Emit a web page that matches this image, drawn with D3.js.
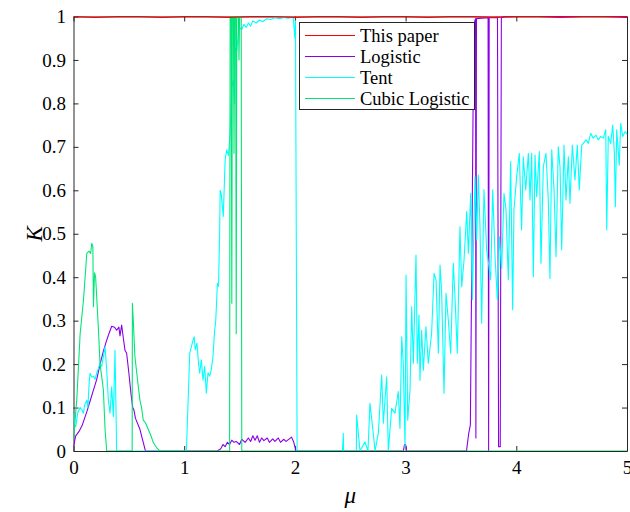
<!DOCTYPE html>
<html><head><meta charset="utf-8">
<script src="https://cdn.jsdelivr.net/npm/d3@7/dist/d3.min.js"></script>
<style>body{margin:0;background:#fff}svg{display:block}
svg text{font-family:"Liberation Serif","Tinos","Times New Roman","DejaVu Serif",serif !important;}
</style>
</head><body>
<svg id="chart" width="630" height="512"></svg>
<script>
const seriesNames = ["This paper", "Logistic", "Tent", "Cubic Logistic"];
const seriesColors = ["#ff0000", "#8b00e6", "#00ffff", "#00e676"];
const xTicks = [0, 1, 2, 3, 4, 5];
const yTicks = [0, 0.1, 0.2, 0.3, 0.4, 0.5, 0.6, 0.7, 0.8, 0.9, 1];

const paperPts = [[0,1],[0.2,0.998],[0.4,1],[0.6,1],[0.8,0.998],[1.0,1],[1.2,1],[1.4,0.998],[1.6,1],[1.8,1],[2.0,0.998],[2.2,1],[2.4,1],[2.6,0.998],[2.8,1],[3.0,1],[3.2,0.998],[3.4,1],[3.6,1],[3.8,0.998],[4.0,1],[4.2,1],[4.4,0.998],[4.6,1],[4.8,1],[5.0,0.998]];

const logisticPts = [[0,0.01],[0.02,0.035],[0.05,0.045],[0.08,0.06],[0.1,0.075],[0.12,0.09],[0.15,0.115],[0.18,0.14],[0.21,0.165],[0.24,0.2],[0.27,0.23],[0.3,0.255],[0.32,0.27],[0.345,0.287],[0.37,0.285],[0.39,0.278],[0.41,0.285],[0.42,0.265],[0.435,0.29],[0.45,0.26],[0.465,0.232],[0.48,0.225],[0.5,0.18],[0.52,0.13],[0.535,0.1],[0.545,0.095],[0.56,0.075],[0.6,0.05],[0.63,0.02],[0.65,0],[1.3,0],[1.33,0.005],[1.35,0.015],[1.37,0.01],[1.39,0.02],[1.41,0.015],[1.43,0.025],[1.45,0.02],[1.47,0.022],[1.5,0.015],[1.52,0.027],[1.55,0.02],[1.58,0.03],[1.6,0.022],[1.62,0.035],[1.64,0.025],[1.66,0.035],[1.68,0.02],[1.7,0.03],[1.72,0.024],[1.75,0.03],[1.77,0.02],[1.8,0.028],[1.82,0.022],[1.85,0.03],[1.87,0.02],[1.9,0.027],[1.92,0.022],[1.95,0.028],[1.97,0.032],[1.99,0.02],[2.01,0],[2.98,0],[2.99,0.015],[3.0,0.015],[3.01,0],[3.55,0],[3.57,0.04],[3.585,0.06],[3.6,0.5],[3.615,0.95],[3.625,0.99],[3.632,0.995],[3.635,0.03],[3.64,0.995],[3.745,0.997],[3.75,0],[3.755,0.997],[3.83,0.998],[3.84,0.01],[3.855,0.01],[3.865,0.998],[3.9,1],[5,1]];

const tentPts = [[0,0.087],[0.01,0.06],[0.02,0.056],[0.04,0.09],[0.06,0.1],[0.075,0.095],[0.09,0.087],[0.1,0.105],[0.12,0.117],[0.13,0.1],[0.14,0.15],[0.149,0.179],[0.165,0.17],[0.18,0.172],[0.195,0.165],[0.21,0.18],[0.225,0.19],[0.24,0.202],[0.255,0.195],[0.27,0.217],[0.285,0.24],[0.3,0.186],[0.315,0.117],[0.33,0.087],[0.345,0.148],[0.36,0.079],[0.375,0.232],[0.39,0],[1.02,0],[1.05,0.225],[1.08,0.255],[1.09,0.263],[1.1,0.233],[1.115,0.248],[1.13,0.2],[1.14,0.179],[1.155,0.21],[1.17,0.163],[1.185,0.195],[1.2,0.133],[1.215,0.18],[1.23,0.172],[1.245,0.188],[1.26,0.217],[1.275,0.277],[1.285,0.3],[1.3,0.386],[1.31,0.379],[1.32,0.5],[1.325,0.6],[1.335,0.59],[1.353,0.54],[1.37,0.67],[1.384,0.693],[1.4,0.68],[1.414,0.73],[1.43,0.838],[1.444,0.854],[1.455,0.8],[1.46,0.927],[1.475,0.92],[1.49,0.965],[1.5,0.975],[1.52,0.97],[1.54,0.982],[1.56,0.975],[1.58,0.985],[1.6,0.978],[1.62,0.99],[1.65,0.985],[1.68,0.992],[1.71,0.988],[1.745,0.995],[1.78,0.993],[1.82,0.997],[1.86,0.995],[1.9,0.998],[1.94,0.996],[1.97,0.998],[1.985,0.997],[2.0,0.95],[2.005,0.99],[2.02,0],[2.43,0],[2.437,0.041],[2.44,0],[2.555,0],[2.558,0.083],[2.588,0],[2.633,0.021],[2.66,0],[2.678,0.11],[2.708,0.041],[2.724,0],[2.754,0.041],[2.784,0.175],[2.799,0.064],[2.829,0.171],[2.844,0],[2.874,0.098],[2.904,0.087],[2.934,0.137],[2.949,0.052],[2.965,0.263],[2.979,0.202],[2.995,0.01],[3.004,0.405],[3.019,0.071],[3.04,0.14],[3.055,0.332],[3.07,0.202],[3.094,0.451],[3.106,0.202],[3.121,0.313],[3.13,0.163],[3.145,0.278],[3.16,0.186],[3.184,0.286],[3.205,0.202],[3.235,0.271],[3.257,0.409],[3.275,0.394],[3.296,0.225],[3.311,0.428],[3.326,0.363],[3.347,0.133],[3.365,0.363],[3.386,0.301],[3.407,0.225],[3.431,0.432],[3.446,0.355],[3.467,0.225],[3.491,0.516],[3.507,0.378],[3.528,0.44],[3.552,0.551],[3.567,0.455],[3.588,0.593],[3.603,0.348],[3.627,0.631],[3.642,0.486],[3.657,0.635],[3.672,0.516],[3.687,0.294],[3.708,0.601],[3.732,0.463],[3.753,0.424],[3.768,0.394],[3.787,0.601],[3.808,0.447],[3.829,0.348],[3.847,0.493],[3.868,0.42],[3.889,0.593],[3.907,0.555],[3.928,0.394],[3.949,0.666],[3.967,0.325],[3.979,0.555],[4.003,0.631],[4.027,0.685],[4.048,0.509],[4.063,0.677],[4.085,0.601],[4.109,0.685],[4.124,0.578],[4.139,0.685],[4.154,0.401],[4.169,0.681],[4.184,0.585],[4.208,0.689],[4.223,0.432],[4.244,0.654],[4.268,0.685],[4.289,0.578],[4.304,0.397],[4.32,0.693],[4.341,0.601],[4.359,0.447],[4.379,0.7],[4.395,0.654],[4.41,0.463],[4.431,0.704],[4.449,0.578],[4.47,0.677],[4.485,0.57],[4.506,0.704],[4.53,0.624],[4.551,0.704],[4.569,0.601],[4.591,0.704],[4.606,0.708],[4.63,0.716],[4.651,0.708],[4.672,0.731],[4.696,0.72],[4.72,0.727],[4.741,0.716],[4.762,0.724],[4.786,0.72],[4.808,0.739],[4.817,0.509],[4.831,0.724],[4.853,0.708],[4.871,0.75],[4.886,0.685],[4.895,0.562],[4.907,0.739],[4.93,0.658],[4.943,0.754],[4.961,0.724],[4.982,0.735],[5.0,0.73]];

const cubicPts = [[0,0.025],[0.03,0.12],[0.06,0.27],[0.09,0.347],[0.105,0.4],[0.12,0.455],[0.14,0.46],[0.155,0.455],[0.165,0.478],[0.175,0.47],[0.18,0.332],[0.19,0.41],[0.2,0.4],[0.224,0.286],[0.24,0.2],[0.255,0.171],[0.27,0.14],[0.285,0.05],[0.3,0],[0.53,0],[0.532,0.34],[0.54,0.3],[0.555,0.217],[0.58,0.16],[0.6,0.117],[0.615,0.1],[0.63,0.071],[0.65,0.065],[0.675,0.05],[0.7,0.035],[0.72,0.02],[0.75,0.008],[0.78,0],[1.41,0],[1.415,1],[1.425,1],[1.43,0.34],[1.435,1],[1.445,1],[1.45,0.685],[1.455,1],[1.465,1],[1.47,0.27],[1.475,1],[1.49,1],[1.495,0.9],[1.5,1],[1.515,1],[1.52,0],[5,0]];

const W = 630, H = 512;
const margin = {left: 73.5, right: 3, top: 16.5, bottom: 61};
const svg = d3.select("#chart");
const x = d3.scaleLinear().domain([0, 5]).range([margin.left, W - margin.right]);
const y = d3.scaleLinear().domain([0, 1]).range([H - margin.bottom, margin.top]);
const axisColor = "#262626";

svg.append("rect").attr("width", W).attr("height", H).attr("fill", "#fff");

svg.append("defs").append("clipPath").attr("id", "clip")
  .append("rect").attr("x", x(0)).attr("y", y(1) - 1).attr("width", x(5) - x(0)).attr("height", y(0) - y(1) + 1);

const line = d3.line().x(d => x(d[0])).y(d => y(d[1]));

// Axes (box with mirrored ticks)
const gx = svg.append("g").attr("transform", `translate(0,${y(0)})`)
  .call(d3.axisBottom(x).tickValues(xTicks).tickFormat(d3.format("d")).tickSizeInner(-5).tickSizeOuter(0).tickPadding(10));
const gy = svg.append("g").attr("transform", `translate(${x(0)},0)`)
  .call(d3.axisLeft(y).tickValues(yTicks).tickFormat(d => d === 0 ? "0" : d === 1 ? "1" : d3.format(".1f")(d)).tickSizeInner(-5).tickSizeOuter(0).tickPadding(7.5));
const gxt = svg.append("g").attr("transform", `translate(0,${y(1)})`)
  .call(d3.axisTop(x).tickValues(xTicks).tickFormat("").tickSizeInner(-5).tickSizeOuter(0));
const gyr = svg.append("g").attr("transform", `translate(${x(5)},0)`)
  .call(d3.axisRight(y).tickValues(yTicks).tickFormat("").tickSizeInner(-5).tickSizeOuter(0));
[gx, gy, gxt, gyr].forEach(g => {
  g.selectAll("path.domain").attr("stroke", axisColor).attr("stroke-width", 1);
  g.selectAll(".tick line").attr("stroke", axisColor);
  g.selectAll("text").attr("fill", "#000").style("font-size", "19px");
});

const plot = svg.append("g").attr("clip-path", "url(#clip)");
const allSeries = [paperPts, logisticPts, tentPts, cubicPts];
const order = [1, 2, 3, 0];
order.forEach(i => {
  plot.append("path").datum(allSeries[i])
    .attr("fill", "none").attr("stroke", seriesColors[i]).attr("stroke-width", 1.1)
    .attr("stroke-linejoin", "round").attr("d", line);
});

svg.append("text").attr("x", x(2.5)).attr("y", 503)
  .attr("text-anchor", "middle").style("font-size", "23px").style("font-style", "italic").text("μ");
svg.append("text").attr("transform", `translate(42,${y(0.5)}) rotate(-90)`)
  .attr("text-anchor", "middle").style("font-size", "23px").style("font-style", "italic").text("K");

// Legend
const lg = svg.append("g");
lg.append("rect").attr("x", 299.5).attr("y", 22.5).attr("width", 175).attr("height", 87)
  .attr("fill", "#fff").attr("stroke", axisColor).attr("stroke-width", 1);
const rowY = [35.5, 56.5, 77.5, 98.5];
seriesNames.forEach((n, i) => {
  lg.append("line").attr("x1", 305).attr("x2", 355).attr("y1", rowY[i]).attr("y2", rowY[i])
    .attr("stroke", seriesColors[i]).attr("stroke-width", 1.2);
  lg.append("text").attr("x", 360).attr("y", rowY[i] + 6)
    .style("font-size", "18.5px").attr("fill", "#000").text(n);
});
</script>
</body></html>
